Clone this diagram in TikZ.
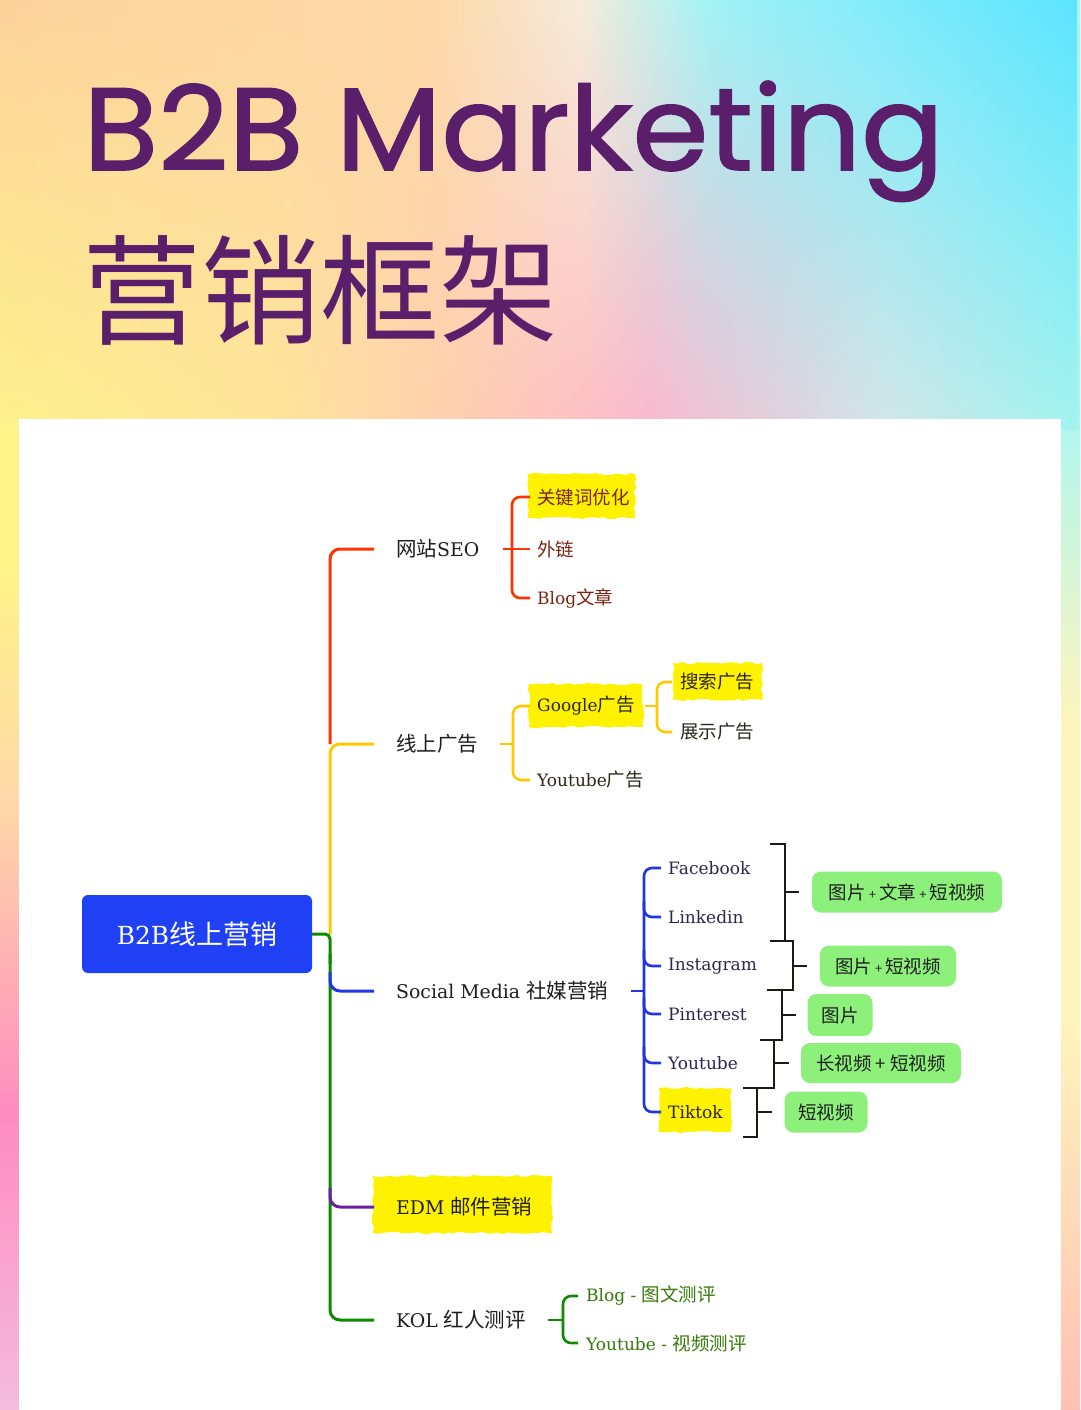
\documentclass[tikz,border=0pt]{standalone}
\usepackage{fontspec}
\setmainfont{DejaVu Serif}[Scale=0.92]
\newfontfamily\cjk{Noto Sans CJK SC}
\newfontfamily\titlefont{Poppins}[FakeBold=1.4]
\usetikzlibrary{fadings,decorations.pathmorphing}
\newcommand{\zh}[1]{{\cjk #1}}
\definecolor{bgA}{HTML}{FFF58C}
\definecolor{bgB}{HTML}{FFE69A}
\definecolor{bgC}{HTML}{FFB4CB}
\definecolor{bgD}{HTML}{D8E6E6}
\definecolor{bgE}{HTML}{A6F6EE}
\definecolor{tpA}{HTML}{FCD39C}
\definecolor{tpB}{HTML}{FDD9A8}
\definecolor{tpC}{HTML}{F6ECDC}
\definecolor{tpD}{HTML}{A2F3F6}
\definecolor{tpE}{HTML}{5CE5FF}
\definecolor{lsT}{HTML}{FFF488}
\definecolor{lsX}{HTML}{FFD8A8}
\definecolor{lsM}{HTML}{FF8CC0}
\definecolor{lsB}{HTML}{F4BCDC}
\definecolor{rsT}{HTML}{B2F7EE}
\definecolor{rsM}{HTML}{FFF4BC}
\definecolor{rsB}{HTML}{FFC0B4}
\definecolor{titlec}{HTML}{5B1E6B}
\definecolor{rootc}{HTML}{1F40F4}
\definecolor{redc}{HTML}{FF3300}
\definecolor{yelc}{HTML}{FFC800}
\definecolor{bluc}{HTML}{2035E6}
\definecolor{grnc}{HTML}{0E8A00}
\definecolor{purc}{HTML}{6A1FA0}
\definecolor{hly}{HTML}{FFF200}
\definecolor{gfill}{HTML}{8CF07A}
\definecolor{txtmain}{HTML}{1E1E1E}
\definecolor{txtred}{HTML}{7A2412}
\definecolor{txtdark}{HTML}{2A2618}
\definecolor{txtnavy}{HTML}{2A2850}
\definecolor{txtgrn}{HTML}{347A08}
\definecolor{brk}{HTML}{1C1A14}
\pgfdeclarehorizontalshading{bgmain}{100bp}{color(0bp)=(bgA); color(25bp)=(bgA); color(38bp)=(bgB); color(55bp)=(bgC); color(66bp)=(bgD); color(75bp)=(bgE); color(100bp)=(bgE)}
\pgfdeclarehorizontalshading{bgtop}{100bp}{color(0bp)=(tpA); color(25bp)=(tpA); color(45bp)=(tpB); color(52bp)=(tpC); color(58bp)=(tpD); color(75bp)=(tpE); color(100bp)=(tpE)}
\pgfdeclareverticalshading{lstrip}{100bp}{color(0bp)=(lsB); color(25bp)=(lsB); color(40bp)=(lsM); color(56bp)=(lsX); color(68bp)=(lsT); color(100bp)=(lsT)}
\pgfdeclareverticalshading{rstrip}{100bp}{color(0bp)=(rsB); color(25bp)=(rsB); color(45bp)=(rsM); color(60bp)=(rsM); color(75bp)=(rsT); color(100bp)=(rsT)}
\tikzfading[name=topfade, top color=transparent!0, middle color=transparent!25, bottom color=transparent!100]
\tikzset{
  branch/.style={line width=3pt, rounded corners=10pt},
  sub/.style={line width=2.6pt, rounded corners=8pt},
  brack/.style={line width=2.4pt, brk},
  mainlbl/.style={anchor=west, inner sep=0pt, text=txtmain, font=\fontsize{20.5}{24}\selectfont},
  leaf/.style={anchor=west, inner sep=0pt, font=\fontsize{18.5}{22}\selectfont},
  gbox/.style={fill=gfill, rounded corners=9pt, inner sep=0pt, text=txtmain, font=\cjk\fontsize{18.5}{22}\selectfont},
  hlfill/.style={fill=hly, decorate, decoration={random steps, segment length=5pt, amplitude=1.2pt}},
}
\newcommand{\smallplus}{\,{\fontsize{13}{13}\selectfont +}\,}
\begin{document}
\begin{tikzpicture}[x=1pt, y=-1pt]
\pgfmathsetseed{7}
% background
\useasboundingbox (0,0) rectangle (1080,1410);
\shade[shading=bgmain] (0,0) rectangle (1080,1410);
\shade[shading=bgtop, path fading=topfade] (0,0) rectangle (1080,460);
\shade[shading=lstrip] (0,430) rectangle (19,1410);
\shade[shading=rstrip] (1061,430) rectangle (1080,1410);
\fill[white] (19,419) rectangle (1061,1410);

% title
\node[anchor=base west, inner sep=0pt, text=titlec, font=\titlefont\fontsize{117}{120}\selectfont] (title) at (83,170) {\scalebox{1.045}[1]{B2B Marketing}};
\node[anchor=base west, inner sep=0pt, text=titlec, font=\cjk\fontsize{119}{120}\selectfont] (subtitle) at (82,335) {营销框架};

% highlights
\fill[hlfill] (528,474) rectangle (635,518);
\fill[hlfill] (529,684) rectangle (643,727);
\fill[hlfill] (673,663) rectangle (762,700);
\fill[hlfill] (659,1088) rectangle (731,1132);
\fill[hlfill] (373,1176) rectangle (552,1233);

% root
\node[fill=rootc, rounded corners=6pt, minimum width=230pt, minimum height=78pt, inner sep=0pt, text=white, font=\fontsize{27}{30}\selectfont] (root) at (197,934) {B2B\zh{线上营销}};

% main labels
\node[mainlbl] (seo) at (396,549) {\zh{网站}SEO};
\node[mainlbl] (ads) at (396,744) {\zh{线上广告}};
\node[mainlbl] (sm) at (396,991) {Social Media \zh{社媒营销}};
\node[mainlbl] (edm) at (396,1207) {EDM \zh{邮件营销}};
\node[mainlbl] (kol) at (396,1320) {KOL \zh{红人测评}};

% junctions on the trunk
\coordinate (jseo) at (330,549);
\coordinate (jads) at (330,744);
\coordinate (jroot) at (330,934);
\coordinate (jsm0) at (330,972);
\coordinate (jsm) at (330,991);
\coordinate (jedm0) at (330,1188);
\coordinate (jedm) at (330,1207);
\coordinate (jkol) at (330,1320);

\draw[branch, redc] ([xshift=-22pt]seo.west) -- (jseo) -- (jads);
\draw[branch, yelc] ([xshift=-22pt]ads.west) -- (jads) -- (jroot);
\draw[branch, grnc, rounded corners=5pt] (root.east) -- (jroot) -- ([yshift=-30pt]jroot);
\draw[branch, grnc] ([yshift=-20pt]jroot) -- (jkol) -- ([xshift=-22pt]kol.west);
\draw[branch, bluc] (jsm0) -- (jsm) -- ([xshift=-22pt]sm.west);
\draw[branch, purc] (jedm0) -- (jedm) -- ([xshift=-22pt]edm.west);

% SEO children
\node[leaf, text=txtred] (kw) at (537,497) {\zh{关键词优化}};
\node[leaf, text=txtred] (link) at (537,549) {\zh{外链}};
\node[leaf, text=txtred] (blog) at (537,598) {Blog\zh{文章}};
\coordinate (bseo) at (512,549);
\draw[sub, redc] ([xshift=23pt]seo.east) -- ([xshift=-7pt]link.west);
\draw[sub, redc] ([xshift=-7pt]kw.west) -- (bseo |- kw.west) -- (bseo |- blog.west) -- ([xshift=-7pt]blog.west);

% Ads children
\node[leaf, text=txtdark] (goog) at (537,706) {Google\zh{广告}};
\node[leaf, text=txtdark] (ytad) at (537,780) {Youtube\zh{广告}};
\node[leaf, text=txtdark] (search) at (680,682) {\zh{搜索广告}};
\node[leaf, text=txtdark] (disp) at (680,732) {\zh{展示广告}};
\coordinate (bads) at (513,744);
\draw[sub, yelc] ([xshift=22pt]ads.east) -- (bads);
\draw[sub, yelc] ([xshift=-7pt]goog.west) -- (bads |- goog.west) -- (bads |- ytad.west) -- ([xshift=-7pt]ytad.west);
\coordinate (bgoog) at (657,706);
\draw[sub, yelc] ([xshift=10pt]goog.east) -- (bgoog);
\draw[sub, yelc] ([xshift=-8pt]search.west) -- (bgoog |- search.west) -- (bgoog |- disp.west) -- ([xshift=-8pt]disp.west);

% Social children
\node[leaf, text=txtnavy] (fb) at (668,868) {Facebook};
\node[leaf, text=txtnavy] (li) at (668,917) {Linkedin};
\node[leaf, text=txtnavy] (ig) at (668,966) {Instagram};
\node[leaf, text=txtnavy] (pi) at (668,1014) {Pinterest};
\node[leaf, text=txtnavy] (yt) at (668,1063) {Youtube};
\node[leaf, text=txtdark] (tt) at (668,1112) {Tiktok};
\coordinate (bsm) at (644,991);
\draw[sub, bluc] ([xshift=23pt]sm.east) -- (bsm);
\draw[sub, bluc] ([xshift=-7pt]fb.west) -- (bsm |- fb.west) -- (bsm |- tt.west) -- ([xshift=-7pt]tt.west);
\foreach \c in {li,ig,pi,yt} {
  \draw[sub, bluc] ([yshift=16pt]bsm |- \c.west) -- (bsm |- \c.west) -- ([xshift=-7pt]\c.west);
}

% green boxes
\node[gbox, minimum width=190pt, minimum height=41pt] (g1) at (907,892) {图片\smallplus 文章\smallplus 短视频};
\node[gbox, minimum width=136pt, minimum height=41pt] (g2) at (888,966) {图片\smallplus 短视频};
\node[gbox, minimum width=65pt, minimum height=42pt] (g3) at (840,1015) {图片};
\node[gbox, minimum width=160pt, minimum height=40pt] (g4) at (881,1063) {长视频 + 短视频};
\node[gbox, minimum width=83pt, minimum height=41pt] (g5) at (826,1112) {短视频};

% black brackets
\draw[brack] (770,844) -- (785,844) -- (785,941) -- (770,941);
\draw[brack] (785,892) -- ([xshift=-13pt]g1.west);
\draw[brack] (770,941) -- (793,941) -- (793,990) -- (767,990);
\draw[brack] (793,966) -- ([xshift=-13pt]g2.west);
\draw[brack] (782,990) -- (782,1040) -- (760,1040);
\draw[brack] (782,1015) -- ([xshift=-11pt]g3.west);
\draw[brack] (774,1040) -- (774,1088) -- (743,1088);
\draw[brack] (774,1063) -- ([xshift=-12pt]g4.west);
\draw[brack] (757,1088) -- (757,1137) -- (743,1137);
\draw[brack] (757,1112) -- ([xshift=-12pt]g5.west);

% KOL children
\node[leaf, text=txtgrn] (kb1) at (586,1296) {Blog - \zh{图文测评}};
\node[leaf, text=txtgrn] (kb2) at (586,1343) {Youtube - \zh{视频测评}};
\coordinate (bkol) at (563,1320);
\draw[sub, grnc] ([xshift=22pt]kol.east) -- (bkol);
\draw[sub, grnc] ([xshift=-8pt]kb1.west) -- (bkol |- kb1.west) -- (bkol |- kb2.west) -- ([xshift=-8pt]kb2.west);
\end{tikzpicture}
\end{document}
